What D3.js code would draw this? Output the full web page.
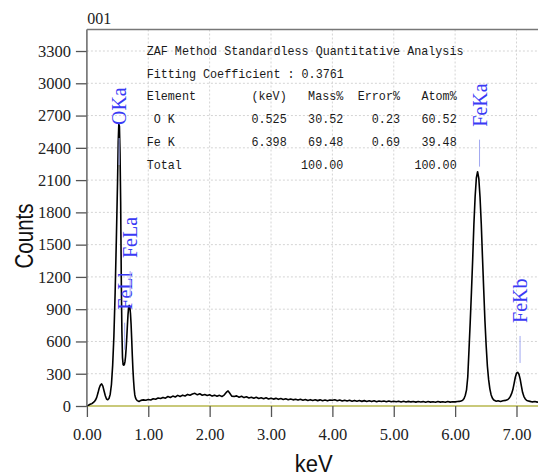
<!DOCTYPE html>
<html><head><meta charset="utf-8">
<script src="https://cdn.jsdelivr.net/npm/d3@7"></script>
<style>
html,body{margin:0;padding:0;background:#fff;}
svg{display:block;}
</style></head>
<body>
<script>
// ---- data ----
const chartTitle = "001";
const xTicks = [0,1,2,3,4,5,6,7];
const xTickLabels = ["0.00","1.00","2.00","3.00","4.00","5.00","6.00","7.00"];
const yTicks = [0,300,600,900,1200,1500,1800,2100,2400,2700,3000,3300];
const energy = [
0.00,0.02,0.04,0.06,0.08,0.10,0.12,0.14,0.16,0.18,0.20,0.22,0.24,0.26,0.28,0.30,0.32,0.34,0.36,0.38,
0.40,0.42,0.44,0.46,0.48,0.50,0.51,0.52,0.53,0.54,0.55,0.56,0.57,0.58,0.59,0.60,0.61,0.62,0.63,0.64,
0.65,0.66,0.67,0.68,0.69,0.70,0.71,0.72,0.73,0.74,0.75,0.76,0.77,0.78,0.79,0.80,0.82,0.85,
0.88,0.92,0.96,1.00,1.04,1.08,1.12,1.16,1.20,1.24,1.28,1.32,1.36,1.40,1.44,1.48,1.52,1.56,1.60,1.64,
1.68,1.72,1.76,1.80,1.84,1.88,1.92,1.96,2.00,2.04,2.08,2.12,2.16,2.20,2.24,2.28,2.30,2.32,2.36,2.40,
2.44,2.48,2.52,2.56,2.60,2.64,2.68,2.72,2.76,2.80,2.84,2.88,2.92,2.96,3.00,3.04,3.08,3.12,3.16,3.20,
3.24,3.28,3.32,3.36,3.40,3.44,3.48,3.52,3.56,3.60,3.64,3.68,3.72,3.76,3.80,3.84,3.88,3.92,3.96,4.00,
4.04,4.08,4.12,4.16,4.20,4.24,4.28,4.32,4.36,4.40,4.44,4.48,4.52,4.56,4.60,4.64,4.68,4.72,4.76,4.80,
4.84,4.88,4.92,4.96,5.00,5.04,5.08,5.12,5.16,5.20,5.24,5.28,5.32,5.36,5.40,5.44,5.48,5.52,5.56,5.60,
5.64,5.68,5.72,5.76,5.80,5.84,5.88,5.92,5.96,6.00,6.04,6.066,6.086,6.106,6.126,6.146,6.166,6.186,6.206,6.226,
6.246,6.266,6.286,6.306,6.326,6.346,6.366,6.386,6.406,6.426,6.446,6.466,6.486,6.506,6.526,6.546,6.566,6.586,6.606,6.626,
6.646,6.67,6.70,6.74,6.78,6.82,6.86,6.88,6.90,6.92,6.94,6.96,6.98,7.00,7.02,7.04,7.06,7.08,7.10,7.12,
7.14,7.16,7.18,7.22,7.26,7.30,7.34,7.38,7.42
];
const counts = [
0,5,12,18,22,30,40,55,80,120,165,195,205,185,140,95,65,58,70,110,
200,380,650,1050,1550,2100,2450,2620,2600,2350,1900,1200,700,450,385,380,385,410,460,540,
640,750,850,915,935,920,860,760,620,470,340,240,160,105,80,65,50,42,
52,57,53,60,56,68,63,74,70,80,73,88,79,92,84,99,88,101,93,108,
100,112,118,104,114,100,106,97,104,92,101,90,99,88,104,132,140,126,92,88,
94,82,90,78,86,75,82,72,81,70,77,68,76,66,73,64,71,62,69,60,
67,58,65,57,63,55,62,54,61,52,59,51,58,50,57,49,56,48,55,53,
58,49,56,47,54,46,53,45,52,44,51,43,50,42,49,41,48,40,47,42,
47,40,46,39,45,40,45,38,44,37,43,38,42,36,42,37,41,35,41,36,
40,35,41,36,40,35,41,36,40,38,42,43,44,48,55,70,100,150,270,520,
780,1060,1360,1690,1945,2120,2178,2115,1940,1695,1380,1080,790,560,370,245,160,105,74,58,
50,45,49,42,48,52,60,72,90,115,150,205,265,305,313,295,250,185,125,90,
68,55,48,43,38,42,36,40,37
];
const peakNames = ["OKa","FeLl","FeLa","FeKa","FeKb"];
const peakEnergy = [0.525,0.615,0.705,6.398,7.058];
const peakLabelLevel = [2612,895,1375,2597,772];   // counts at which each label text starts
const tableTitle = ["ZAF Method Standardless Quantitative Analysis","Fitting Coefficient : 0.3761"];
const tableHeader = ["Element","(keV)","Mass%","Error%","Atom%"];
const tableRows = [
  [" O K","0.525","30.52","0.23","60.52"],
  ["Fe K","6.398","69.48","0.69","39.48"],
  ["Total","","100.00","","100.00"]
];
const xLabel = "keV";
const yLabel = "Counts";

// ---- layout ----
const W = 538, H = 475;
const pLeft = 86.9, pRight = 538, pTop = 29.5, pBottom = 406;
const svg = d3.select("body").append("svg").attr("width", W).attr("height", H);

const x = d3.scaleLinear().domain([0, (pRight-pLeft)/61.37]).range([pLeft, pRight]);
const y = d3.scaleLinear().domain([0, 3500]).range([pBottom, pTop]);

svg.append("defs").append("clipPath").attr("id","plotclip")
  .append("rect").attr("x", pLeft).attr("y", 0).attr("width", pRight-pLeft).attr("height", pBottom);

// grid
const grid = svg.append("g");
grid.selectAll("line.v").data(xTicks.filter(d=>d>0)).join("line")
  .attr("x1", d=>x(d)).attr("x2", d=>x(d)).attr("y1", pTop).attr("y2", pBottom)
  .attr("stroke","#d4d4d4").attr("stroke-width",1).attr("stroke-dasharray","2,2");
grid.selectAll("line.h").data(yTicks.filter(d=>d>0)).join("line")
  .attr("x1", pLeft).attr("x2", pRight).attr("y1", d=>y(d)).attr("y2", d=>y(d))
  .attr("stroke","#d4d4d4").attr("stroke-width",1).attr("stroke-dasharray","2,2");

// baseline
svg.append("line").attr("x1", pLeft).attr("x2", pRight).attr("y1", y(0)).attr("y2", y(0))
  .attr("stroke","#c9c97a").attr("stroke-width",2);

// spectrum
const pts = energy.map((e,i)=>[e, counts[i]]);
svg.append("path").datum(pts)
  .attr("clip-path","url(#plotclip)")
  .attr("fill","none").attr("stroke","#000").attr("stroke-width",1.6)
  .attr("stroke-linejoin","round")
  .attr("d", d3.line().x(d=>x(d[0])).y(d=>y(d[1])));

// peak labels
const lab = svg.append("g");
peakNames.forEach((n,i)=>{
  const px = x(peakEnergy[i]);
  const py = y(peakLabelLevel[i]);
  lab.append("line").attr("x1",px).attr("x2",px).attr("y1",py+13).attr("y2",py+40)
    .attr("stroke","#a0a8f0").attr("stroke-width",1);
  lab.append("text").attr("transform",`translate(${px},${py}) rotate(-90)`)
    .attr("text-anchor","start").attr("dy","0.35em")
    .attr("font-family","'Liberation Serif','Times New Roman',serif").attr("font-size",20)
    .attr("fill","#3a3af5").text(n);
});

// table
const mono = "'Liberation Mono','Courier New',monospace";
const charW = 7.04;
const tbl = svg.append("g").attr("font-family", mono).attr("font-size", 13.5).attr("fill","#1a1a1a");
const tLeft = 146.7;
const colRight = [null, 286.7, 343.3, 400, 456.7];
const rowBase = [55, 77.5, 100, 122.7, 145.5, 168.5];
function monoText(sel, s){
  const lead = s.length - s.trimStart().length;
  const t = s.trim();
  return sel.text(t).attr("dx", lead*charW)
    .attr("textLength", t.length*charW).attr("lengthAdjust","spacingAndGlyphs");
}
tableTitle.forEach((t,i)=>{
  monoText(tbl.append("text").attr("x",tLeft).attr("y",rowBase[i]), t);
});
[tableHeader, ...tableRows].forEach((row,ri)=>{
  row.forEach((c,ci)=>{
    if(!c) return;
    const t = monoText(tbl.append("text").attr("y", rowBase[ri+2]), c);
    if(ci===0) t.attr("x", tLeft);
    else t.attr("x", colRight[ci]).attr("text-anchor","end");
  });
});

// axes
const serif = "'Liberation Serif','Times New Roman',serif";
const xAxis = svg.append("g").attr("transform",`translate(0,${pBottom})`)
  .call(d3.axisBottom(x).tickValues(xTicks).tickFormat((d,i)=>xTickLabels[i]).tickSize(11).tickPadding(11));
xAxis.select(".domain").remove();
xAxis.selectAll("line").attr("stroke","#555").attr("stroke-width",1.3);
xAxis.selectAll("text").attr("font-family",serif).attr("font-size",16.5).attr("fill","#222");

const yAxis = svg.append("g").attr("transform",`translate(${pLeft},0)`)
  .call(d3.axisLeft(y).tickValues(yTicks).tickFormat(d3.format("d")).tickSize(11).tickPadding(5));
yAxis.select(".domain").remove();
yAxis.selectAll("line").attr("stroke","#555").attr("stroke-width",1.3);
yAxis.selectAll("text").attr("font-family",serif).attr("font-size",16.5).attr("fill","#222");

// frame
svg.append("line").attr("x1",pLeft).attr("x2",pLeft).attr("y1",pTop).attr("y2",pBottom)
  .attr("stroke","#666").attr("stroke-width",1.5);
svg.append("line").attr("x1",pLeft).attr("x2",pRight).attr("y1",pTop).attr("y2",pTop)
  .attr("stroke","#777").attr("stroke-width",1.5);

// title
svg.append("text").attr("x",87.3).attr("y",24).attr("font-family",serif).attr("font-size",16)
  .attr("fill","#222").text(chartTitle);

// axis titles
svg.append("text").attr("x",313.7).attr("y",471.5).attr("text-anchor","middle")
  .attr("font-family","'Liberation Sans',Arial,sans-serif").attr("font-size",23)
  .attr("textLength",38).attr("lengthAdjust","spacingAndGlyphs").attr("fill","#111").text(xLabel);
svg.append("text").attr("transform","translate(32.5,236) rotate(-90)").attr("text-anchor","middle")
  .attr("font-family","'Liberation Sans',Arial,sans-serif").attr("font-size",26)
  .attr("textLength",65).attr("lengthAdjust","spacingAndGlyphs").attr("fill","#111").text(yLabel);
</script>
</body></html>
